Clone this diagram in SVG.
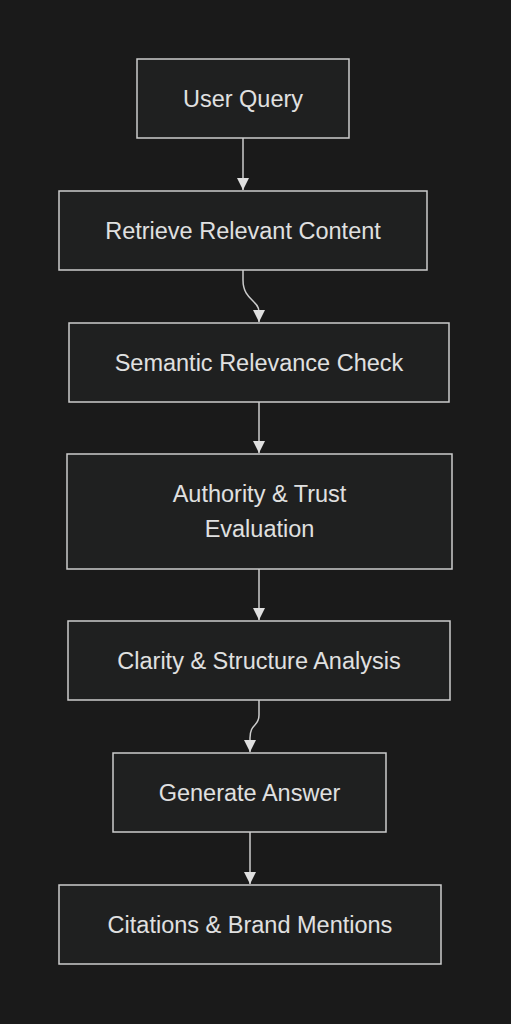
<svg xmlns="http://www.w3.org/2000/svg" width="511" height="1024" viewBox="0 0 511 1024">
<style>
.node rect{fill:#1f2020;stroke:#cccccc;stroke-width:1.5}
.node text{fill:#e0e0e0;font-family:"Liberation Sans",Arial,sans-serif;font-size:23.5px;text-anchor:middle;dominant-baseline:central}
.edge{fill:none;stroke:#cccccc;stroke-width:1.5}
</style>
<defs>
<marker id="arr" viewBox="0 0 10 10" refX="10" refY="5" markerWidth="12" markerHeight="12" markerUnits="userSpaceOnUse" orient="auto">
<path d="M0,0 L10,5 L0,10 z" fill="#e0e0e0"/>
</marker>
</defs>
<rect width="511" height="1024" fill="#1a1a1a"/>
<g id="connectors">
<path class="edge" d="M243,138 L243,190" marker-end="url(#arr)"/>
<path class="edge" d="M243,270 L243,280 C243,300 259,300 259,312 L259,322" marker-end="url(#arr)"/>
<path class="edge" d="M259,402 L259,453" marker-end="url(#arr)"/>
<path class="edge" d="M259,569 L259,620" marker-end="url(#arr)"/>
<path class="edge" d="M259,700 L259,715 C259,727 250,723 250,738 L250,752" marker-end="url(#arr)"/>
<path class="edge" d="M250,832 L250,884" marker-end="url(#arr)"/>
</g>
<g id="n1" class="node"><rect x="137" y="59" width="212" height="79"/><text x="243" y="99">User Query</text></g>
<g id="n2" class="node"><rect x="59" y="191" width="368" height="79"/><text x="243" y="231">Retrieve Relevant Content</text></g>
<g id="n3" class="node"><rect x="69" y="323" width="380" height="79"/><text x="259" y="363">Semantic Relevance Check</text></g>
<g id="n4" class="node"><rect x="67" y="454" width="385" height="115"/><text x="259.5" y="494">Authority &amp; Trust</text><text x="259.5" y="529">Evaluation</text></g>
<g id="n5" class="node"><rect x="68" y="621" width="382" height="79"/><text x="259" y="661">Clarity &amp; Structure Analysis</text></g>
<g id="n6" class="node"><rect x="113" y="753" width="273" height="79"/><text x="249.5" y="793">Generate Answer</text></g>
<g id="n7" class="node"><rect x="59" y="885" width="382" height="79"/><text x="250" y="925">Citations &amp; Brand Mentions</text></g>
</svg>
